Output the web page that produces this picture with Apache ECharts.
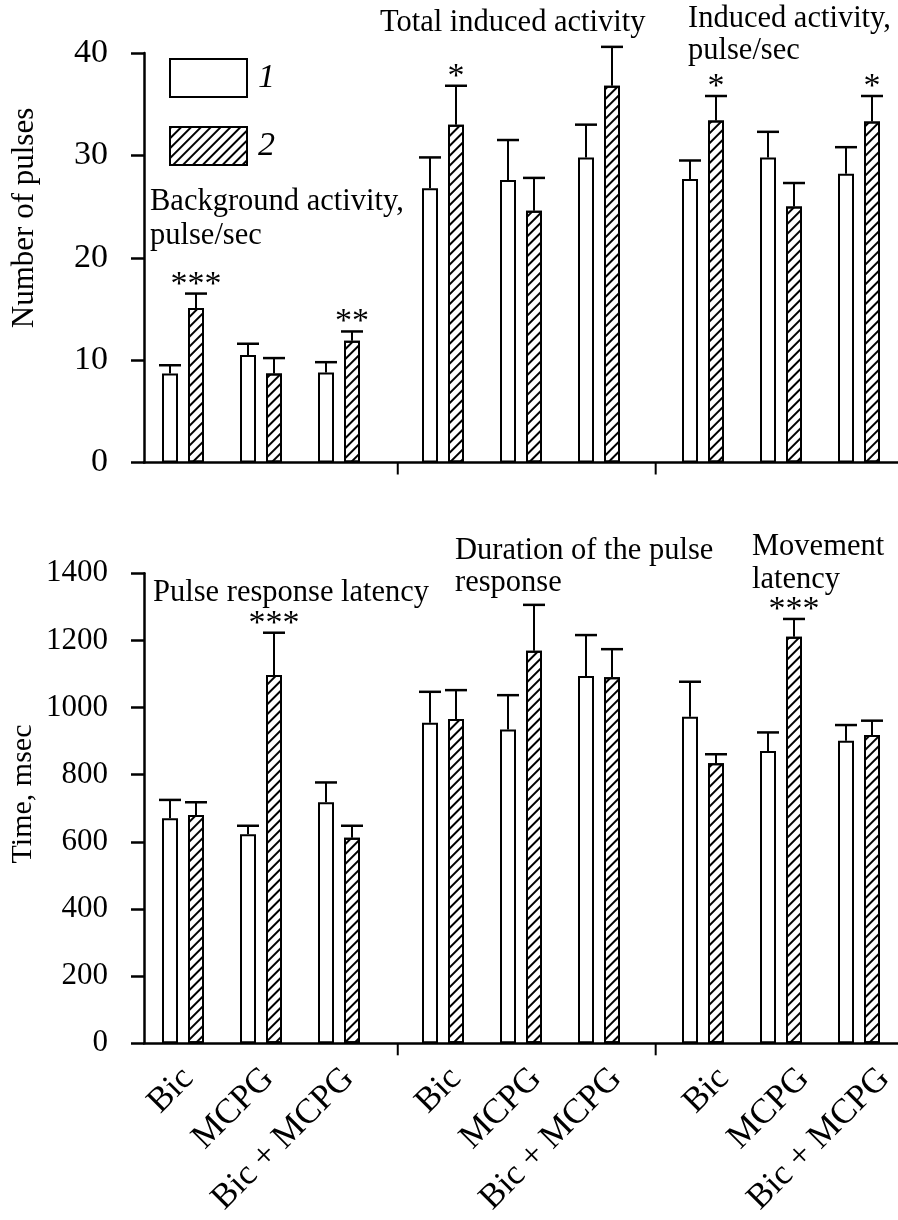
<!DOCTYPE html>
<html><head><meta charset="utf-8">
<script src="https://cdn.jsdelivr.net/npm/echarts@6/dist/echarts.min.js"></script>
<style>html,body{margin:0;padding:0;background:#fff}#c{width:898px;height:1220px}</style>
</head><body><div id="c"></div>
<script>
// ---------- data ----------
const categories = ['Bic', 'MCPG', 'Bic + MCPG', 'Bic', 'MCPG', 'Bic + MCPG', 'Bic', 'MCPG', 'Bic + MCPG'];
const seriesNames = ['1', '2'];

const pulses1    = [8.7, 10.5, 8.8, 26.8, 27.6, 29.8, 27.7, 29.8, 28.2];
const pulses1Err = [0.8, 1.1, 1.0, 3.0, 3.9, 3.2, 1.8, 2.5, 2.6];
const pulses2    = [15.1, 8.7, 11.9, 33.0, 24.6, 36.8, 33.4, 25.0, 33.3];
const pulses2Err = [1.4, 1.5, 0.9, 3.8, 3.2, 3.8, 2.4, 2.3, 2.5];
const pulses2Stars = ['***', '', '**', '*', '', '', '*', '', '*'];

const time1    = [670, 623, 718, 955, 935, 1094, 973, 871, 901];
const time1Err = [55, 25, 59, 92, 102, 122, 104, 55, 47];
const time2    = [680, 1097, 612, 966, 1169, 1090, 834, 1211, 918];
const time2Err = [38, 126, 36, 86, 137, 84, 27, 53, 43];
const time2Stars = ['', '***', '', '', '', '', '', '***', ''];

const pulsesAxis = { min: 0, max: 40, interval: 10, name: 'Number of pulses' };
const timeAxis   = { min: 0, max: 1400, interval: 200, name: 'Time, msec' };

const topNotes = [
  { text: 'Background activity,\npulse/sec' },
  { text: 'Total induced activity' },
  { text: 'Induced activity,\npulse/sec' }
];
const bottomNotes = [
  { text: 'Pulse response latency' },
  { text: 'Duration of the pulse\nresponse' },
  { text: 'Movement\nlatency' }
];

// ---------- layout ----------
const FONT = 'Liberation Serif';
const CLUSTERS_PER_GROUP = 3;
const SLOTS_PER_CLUSTER = 3;
const nGroups = categories.length / CLUSTERS_PER_GROUP;
const totalSlots = categories.length * SLOTS_PER_CLUSTER + (nGroups - 1);
const slotOf = i => 1 + SLOTS_PER_CLUSTER * i + Math.floor(i / CLUSTERS_PER_GROUP);
const slotIds = [];
for (let s = 0; s < totalSlots; s++) slotIds.push('s' + s);
const SEPARATOR_AT = [9.26, 19.18];

const BAR_W = 16, PAIR_OFFSET = 13;
const LABEL_FONT = 35, LABEL_MARGIN = 30, LABEL_DX = 5, LABEL_SPREAD = 0.03;

function slotData(values) {
  const arr = new Array(totalSlots).fill('-');
  values.forEach((v, i) => { arr[slotOf(i)] = v; });
  return arr;
}
function errData(values, errs) {
  return values.map((v, i) => [slotOf(i), v, errs[i]]);
}

const hatch = {
  symbol: 'rect', symbolSize: 1, dashArrayX: [1, 0], dashArrayY: [1.5, 5],
  rotation: -Math.PI / 4, color: '#000'
};

function errSeries(gi, values, errs, offset, stars) {
  return {
    type: 'custom', xAxisIndex: gi, yAxisIndex: gi, z: 5, silent: true,
    data: errData(values, errs),
    encode: { x: 0, y: 1 },
    renderItem: function (params, api) {
      const idx = api.value(0), v = api.value(1), e = api.value(2);
      const base = api.coord([idx, v]);
      const top = api.coord([idx, v + e]);
      const x = base[0] + offset;
      const children = [
        { type: 'line', shape: { x1: x, y1: base[1], x2: x, y2: top[1] }, style: { stroke: '#000', lineWidth: 2 } },
        { type: 'line', shape: { x1: x - 11, y1: top[1], x2: x + 11, y2: top[1] }, style: { stroke: '#000', lineWidth: 2.5 } }
      ];
      const st = stars && stars[params.dataIndex];
      if (st) {
        children.push({ type: 'text', x: x, y: top[1] - 9,
          style: { text: st, font: '34px ' + FONT, fill: '#000', align: 'center', verticalAlign: 'middle',
                   textAlign: 'center', textVerticalAlign: 'middle' } });
      }
      return { type: 'group', children: children };
    }
  };
}

function sepSeries(gi) {
  return {
    type: 'custom', xAxisIndex: gi, yAxisIndex: gi, z: 5, silent: true,
    data: SEPARATOR_AT.map(p => [p, 0]),
    encode: { x: 0, y: 1 },
    renderItem: function (params, api) {
      const p = SEPARATOR_AT[params.dataIndex];
      const f = Math.floor(p);
      const a = api.coord([f, 0]), b = api.coord([f + 1, 0]);
      const x = a[0] + (b[0] - a[0]) * (p - f);
      return { type: 'line', shape: { x1: x, y1: a[1], x2: x, y2: a[1] + 12 }, style: { stroke: '#000', lineWidth: 2 } };
    }
  };
}

// category labels, rotated 45 degrees, anchored under each cluster
function labelSeries(gi) {
  return {
    type: 'custom', xAxisIndex: gi, yAxisIndex: gi, z: 5, silent: true, clip: false,
    data: categories.map((c, i) => [slotOf(i), 0]),
    encode: { x: 0, y: 1 },
    renderItem: function (params, api) {
      const p = api.coord([api.value(0), 0]);
      const p0 = api.coord([slotOf(0), 0]);
      const x = p[0] + LABEL_DX + LABEL_SPREAD * (p[0] - p0[0]);
      return { type: 'text', x: x, y: p[1] + LABEL_MARGIN, rotation: Math.PI / 4,
        style: { text: categories[params.dataIndex], font: LABEL_FONT + 'px ' + FONT, fill: '#000',
                 align: 'right', verticalAlign: 'middle', textAlign: 'right', textVerticalAlign: 'middle' } };
    }
  };
}

function barSeries(gi, name, values, hatched) {
  return {
    type: 'bar', name: name, xAxisIndex: gi, yAxisIndex: gi,
    data: slotData(values), barWidth: BAR_W, barGap: '62.5%', silent: true,
    itemStyle: Object.assign({ color: '#fff', borderColor: '#000', borderWidth: 2 }, hatched ? { decal: hatch } : {}),
    emphasis: { disabled: true }
  };
}

function yAxisOf(gi, ax, fs) {
  return {
    type: 'value', gridIndex: gi, min: ax.min, max: ax.max, interval: ax.interval,
    axisLine: { show: true, lineStyle: { color: '#000', width: 2.5 } },
    axisTick: { show: true, length: 13, lineStyle: { color: '#000', width: 2.5 } },
    axisLabel: { color: '#000', fontFamily: FONT, fontSize: fs, margin: 36, formatter: v => String(v) },
    splitLine: { show: false }
  };
}
function xAxisOf(gi) {
  return {
    type: 'category', gridIndex: gi, data: slotIds,
    axisLine: { show: true, onZero: true, lineStyle: { color: '#000', width: 2.5 } },
    axisTick: { show: false },
    axisLabel: { show: false },
    splitLine: { show: false }
  };
}

function noteText(t, x, y, lh) {
  return { type: 'text', x: x, y: y, silent: true,
    style: { text: t, font: '30.5px ' + FONT, fill: '#000', lineHeight: lh,
             align: 'left', verticalAlign: 'top', textAlign: 'left', textVerticalAlign: 'top' } };
}
function axisName(t, x, y, fs) {
  return { type: 'text', x: x, y: y, rotation: Math.PI / 2, silent: true,
    style: { text: t, font: fs + 'px ' + FONT, fill: '#000',
             align: 'center', verticalAlign: 'middle', textAlign: 'center', textVerticalAlign: 'middle' } };
}

const chart = echarts.init(document.getElementById('c'), null, { renderer: 'canvas' });
chart.setOption({
  backgroundColor: '#fff',
  animation: false,
  grid: [
    { left: 144, top: 53, width: 756, height: 409.5 },
    { left: 144, top: 573.3, width: 756, height: 470 }
  ],
  legend: {
    data: seriesNames, orient: 'vertical', left: 169, top: 58, padding: 0,
    itemWidth: 77, itemHeight: 38, itemGap: 28, icon: 'rect', selectedMode: false,
    textStyle: { fontFamily: FONT, fontStyle: 'italic', fontSize: 34, color: '#000', lineHeight: 38, padding: [0, 0, 0, 6] }
  },
  xAxis: [xAxisOf(0), xAxisOf(1)],
  yAxis: [yAxisOf(0, pulsesAxis, 34), yAxisOf(1, timeAxis, 31)],
  series: [
    barSeries(0, seriesNames[0], pulses1, false),
    barSeries(0, seriesNames[1], pulses2, true),
    errSeries(0, pulses1, pulses1Err, -PAIR_OFFSET, null),
    errSeries(0, pulses2, pulses2Err, PAIR_OFFSET, pulses2Stars),
    sepSeries(0),
    barSeries(1, seriesNames[0], time1, false),
    barSeries(1, seriesNames[1], time2, true),
    errSeries(1, time1, time1Err, -PAIR_OFFSET, null),
    errSeries(1, time2, time2Err, PAIR_OFFSET, time2Stars),
    sepSeries(1),
    labelSeries(1)
  ],
  graphic: [
    axisName(pulsesAxis.name, 25, 218, 31),
    axisName(timeAxis.name, 23, 794, 30),
    noteText(topNotes[0].text, 150, 185, 34),
    noteText(topNotes[1].text, 380, 8, 30),
    noteText(topNotes[2].text, 688, 3, 32),
    noteText(bottomNotes[0].text, 153, 578, 30),
    noteText(bottomNotes[1].text, 455, 534.5, 32),
    noteText(bottomNotes[2].text, 752, 530, 33)
  ]
});
</script>
</body></html>
